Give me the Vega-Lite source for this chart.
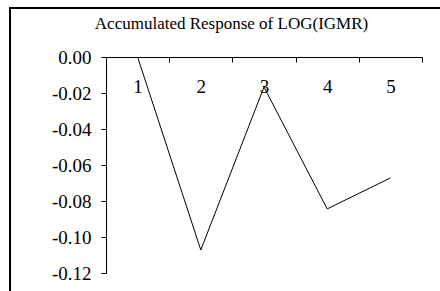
{
  "$schema": "https://vega.github.io/schema/vega-lite/v6.json",
  "width": 440,
  "height": 300,
  "autosize": "none",
  "padding": {"left": 10, "top": 8, "right": 0, "bottom": 0},
  "background": "white",
  "view": {"stroke": "black", "strokeWidth": 2, "fill": "white"},
  "data": {
    "values": [
      {"h": 1, "v": 0.0},
      {"h": 2, "v": -0.1072},
      {"h": 3, "v": -0.0167},
      {"h": 4, "v": -0.0844},
      {"h": 5, "v": -0.0672}
    ]
  },
  "mark": {"type": "line", "color": "black", "strokeWidth": 1, "clip": false},
  "encoding": {
    "x": {
      "field": "h",
      "type": "quantitative",
      "scale": {"domain": [0.5, 5.5], "range": [96, 412], "nice": false, "zero": false},
      "axis": {
        "orient": "top",
        "offset": -49,
        "title": "Accumulated Response of LOG(IGMR)",
        "titleFont": "Liberation Serif",
        "titleFontSize": 17,
        "titleFontWeight": "normal",
        "titleColor": "black",
        "titleBaseline": "alphabetic",
        "titleAlign": "center",
        "titleAnchor": "middle",
        "titleX": 221,
        "titleY": -29,
        "values": [0.5, 1.5, 2.5, 3.5, 4.5, 5.5],
        "labelExpr": "datum.value < 5 ? format(datum.value + 0.5, 'd') : ''",
        "labelOffset": 31.6,
        "labelPadding": -30,
        "labelBaseline": "alphabetic",
        "labelFont": "Liberation Serif",
        "labelFontSize": 19,
        "labelColor": "black",
        "labelFlush": false,
        "labelOverlap": false,
        "tickSize": -5,
        "tickColor": "black",
        "domainColor": "black",
        "grid": false
      }
    },
    "y": {
      "field": "v",
      "type": "quantitative",
      "scale": {"domain": [-0.12, 0], "range": [265, 49], "nice": false, "zero": false},
      "axis": {
        "orient": "left",
        "offset": -96,
        "title": null,
        "values": [-0.12, -0.1, -0.08, -0.06, -0.04, -0.02, 0],
        "labelExpr": "(datum.value < -0.0001 ? '-' : '') + format(abs(datum.value), '.2f')",
        "labelPadding": 10,
        "labelFont": "Liberation Serif",
        "labelFontSize": 19,
        "labelColor": "black",
        "labelFlush": false,
        "labelOverlap": false,
        "tickSize": 5,
        "tickColor": "black",
        "domainColor": "black",
        "grid": false
      }
    }
  }
}
